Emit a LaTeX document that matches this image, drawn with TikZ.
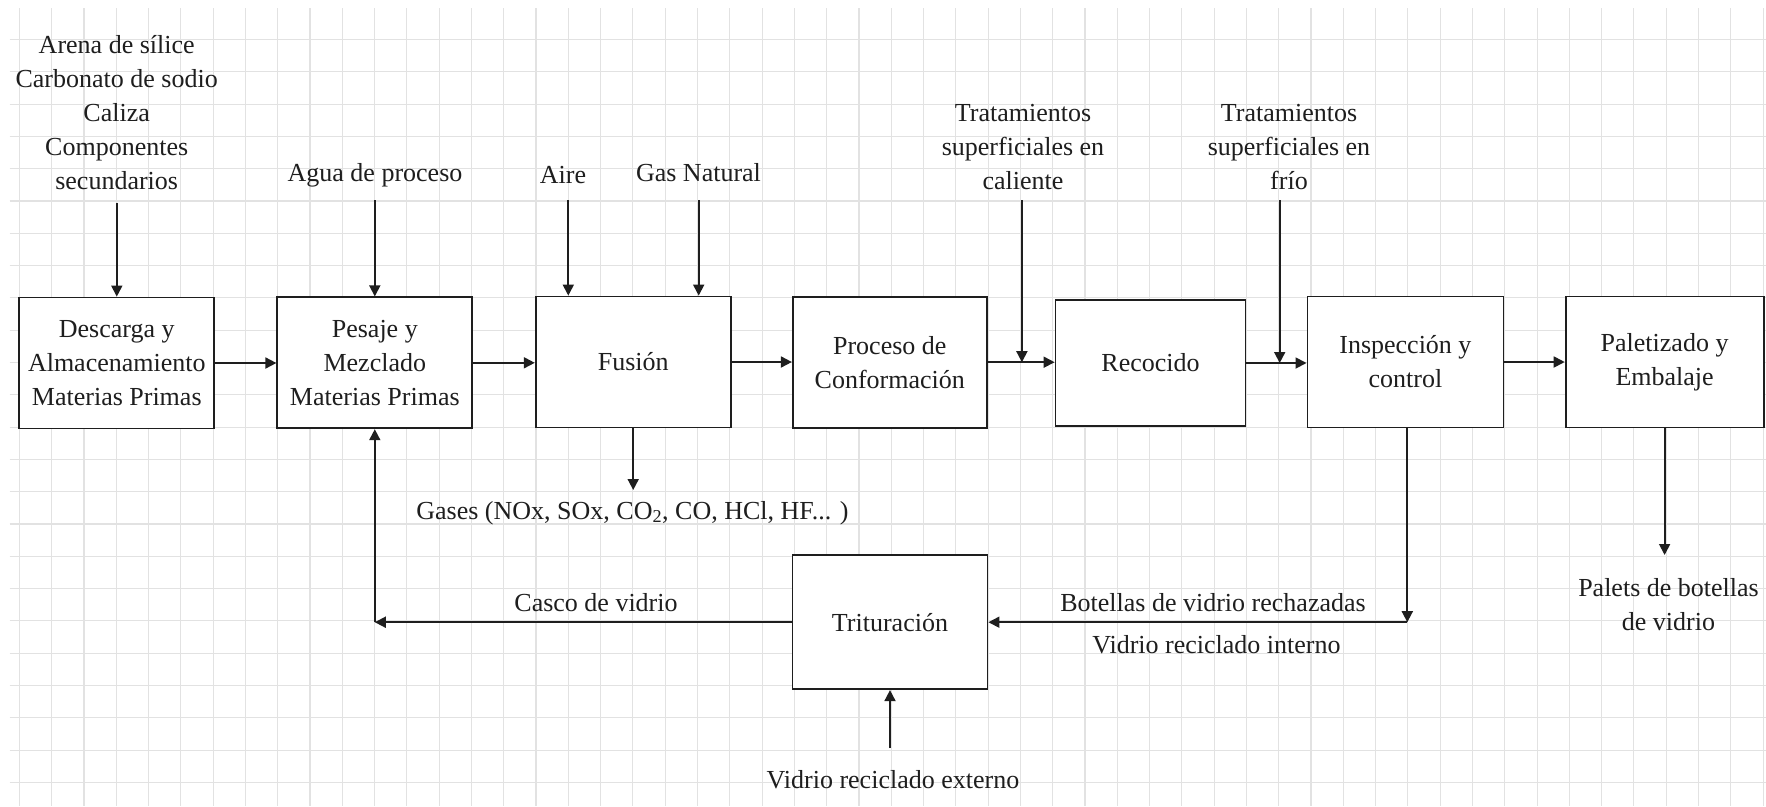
\documentclass[tikz,border=0pt]{standalone}
\usepackage{fontspec}
\setmainfont{Liberation Serif}
\usetikzlibrary{arrows.meta}
\definecolor{gridgray}{RGB}{226,226,226}
\definecolor{ink}{RGB}{30,30,30}
\begin{document}
\begin{tikzpicture}[x=1pt,y=-1pt,
  gridline/.style={draw=gridgray,line width=1.1pt},
  txt/.style={font=\fontsize{26}{34}\selectfont, text=ink, align=center, inner sep=0pt},
  stage/.style={txt, draw=ink, fill=white, line width=1.8pt, minimum width=195pt, minimum height=131pt},
  flow/.style={draw=ink, line width=1.8pt, -{Triangle[length=11pt,width=11pt]}}]

% page and squared background
\useasboundingbox (0,0) rectangle (1766,806);
\fill[white] (0,0) rectangle (1766,806);
\foreach \k in {0,...,54}
  \draw[gridline] ({19.4+\k*32.29},8) -- ({19.4+\k*32.29},806);
\foreach \j in {0,...,23}
  \draw[gridline] (9.5,{39.5+\j*32.3}) -- (1766,{39.5+\j*32.3});

% process stages
\node[stage] (b1) at (116.8,363) {Descarga y\\Almacenamiento\\Materias Primas};
\node[stage] (b2) at (374.8,362.8) {Pesaje y\\Mezclado\\Materias Primas};
\node[stage] (fus) at (633.2,362) {Fusión};
\node[stage, minimum width=194pt] (conf) at (889.8,362.2) {Proceso de\\Conformación};
\node[stage, minimum width=190pt, minimum height=126pt] (rec) at (1150.5,363) {Recocido};
\node[stage, minimum width=196pt] (insp) at (1405.4,362) {Inspección y\\control};
\node[stage, minimum width=198pt] (pal) at (1664.6,362) {Paletizado y\\Embalaje};
\node[stage, minimum height=134pt] (trit) at (890,622.2) {Trituración};

% main line
\draw[flow] (b1.east) -- (b1.east -| b2.west);
\draw[flow] (b2.east) -- (b2.east -| fus.west);
\draw[flow] (fus.east) -- (fus.east -| conf.west);
\draw[flow] (conf.east) -- (conf.east -| rec.west);
\draw[flow] (rec.east) -- (rec.east -| insp.west);
\draw[flow] (insp.east) -- (insp.east -| pal.west);

% inputs from above
\node[txt] (raw) at (116.7,112.5) {Arena de sílice\\Carbonato de sodio\\Caliza\\Componentes\\secundarios};
\coordinate (rawEnd) at (116.8,202.5);
\draw[flow] (rawEnd) -- (b1.north);

\node[txt] (agua) at (375,175) {Agua de proceso};
\coordinate (aguaEnd) at (374.8,200);
\draw[flow] (aguaEnd) -- (b2.north);

\node[txt] (aire) at (563,175) {Aire};
\coordinate (aireEnd) at (568.3,200);
\draw[flow] (aireEnd) -- (aireEnd |- fus.north);

\node[txt] (gas) at (698.5,173) {Gas Natural};
\coordinate (gasEnd) at (698.7,200);
\draw[flow] (gasEnd) -- (gasEnd |- fus.north);

\node[txt] (tcal) at (1023,147.5) {Tratamientos\\superficiales en\\caliente};
\coordinate (tcalEnd) at (1021.9,200);
\draw[flow] (tcalEnd) -- (tcalEnd |- conf.east);

\node[txt] (tfrio) at (1289,147.5) {Tratamientos\\superficiales en\\frío};
\coordinate (tfrioEnd) at (1279.7,200);
\draw[flow] (tfrioEnd) -- (tfrioEnd |- rec.east);

% outputs and recycling loop
\node[txt] (gases) at (632.5,513) {Gases (NOx, SOx, CO\textsubscript{2}, CO, HCl, HF... )};
\coordinate (gasesEnd) at (633.2,490);
\draw[flow] (fus.south) -- (gasesEnd);

\coordinate (rejCorner) at (1407.3,622.2);
\draw[flow] (rejCorner |- insp.south) -- (rejCorner);
\draw[flow] (rejCorner) -- (trit.east);
\node[txt] (rech) at (1213,603) {Botellas de vidrio rechazadas};
\node[txt] (interno) at (1216.5,645) {Vidrio reciclado interno};

\coordinate (cascoCorner) at (374.8,622.2);
\draw[flow] (trit.west) -- (cascoCorner);
\draw[flow] (cascoCorner) -- (b2.south);
\node[txt] (casco) at (596,603) {Casco de vidrio};

\node[txt] (externo) at (893,780) {Vidrio reciclado externo};
\coordinate (extStart) at (890,748);
\draw[flow] (extStart) -- (trit.south);

\coordinate (palEnd) at (1664.6,555);
\draw[flow] (pal.south) -- (palEnd);
\node[txt] (palets) at (1668.5,605) {Palets de botellas\\de vidrio};

\end{tikzpicture}
\end{document}
